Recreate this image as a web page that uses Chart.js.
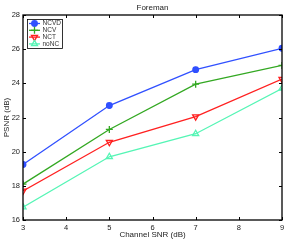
<!DOCTYPE html>
<html>
<head>
<meta charset="utf-8">
<script src="https://cdn.jsdelivr.net/npm/chart.js@4"></script>
<style>
  html, body { margin: 0; padding: 0; background: #fff; }
  #wrap { width: 289px; height: 241px; }
</style>
</head>
<body>
<div id="wrap"><canvas id="psnrChart" width="289" height="241"></canvas></div>
<script>
var snr = [3, 5, 7, 9];
var ncvd = [19.25, 22.7, 24.8, 26.05];
var ncv = [18.1, 21.3, 23.95, 25.05];
var nct = [17.7, 20.55, 22.05, 24.25];
var nonc = [16.75, 19.7, 21.05, 23.7];
var xTicks = [3, 4, 5, 6, 7, 8, 9];
var yTicks = [16, 18, 20, 22, 24, 26, 28];

var font = "'Liberation Sans', Arial, sans-serif";

function pts(vals) {
    return snr.map(function(s, i) { return { x: s, y: vals[i] }; });
}

function makeSet(label, vals, color, style, rot, fill, radius) {
    return {
        label: label,
        data: pts(vals),
        borderColor: color,
        backgroundColor: fill,
        borderWidth: 1.3,
        pointStyle: style,
        pointRotation: rot,
        pointRadius: radius,
        pointBorderColor: color,
        pointBackgroundColor: fill,
        pointBorderWidth: 1.3,
        tension: 0
    };
}

// box, inward ticks, axis titles and the legend, drawn like a matlab figure
var frame = {
    id: 'frame',
    afterDraw: function(chart) {
        var ctx = chart.ctx, a = chart.chartArea;
        var xs = chart.scales.x, ys = chart.scales.y;
        ctx.save();
        ctx.strokeStyle = '#000';
        ctx.lineWidth = 1;
        xTicks.forEach(function(t) {
            var px = Math.round(xs.getPixelForValue(t)) + 0.5;
            ctx.beginPath();
            ctx.moveTo(px, a.bottom); ctx.lineTo(px, a.bottom - 3);
            ctx.moveTo(px, a.top); ctx.lineTo(px, a.top + 3);
            ctx.stroke();
        });
        yTicks.forEach(function(t) {
            var py = Math.round(ys.getPixelForValue(t)) + 0.5;
            ctx.beginPath();
            ctx.moveTo(a.left, py); ctx.lineTo(a.left + 3, py);
            ctx.moveTo(a.right, py); ctx.lineTo(a.right - 3, py);
            ctx.stroke();
        });
        ctx.lineWidth = 1.3;
        ctx.strokeRect(a.left, a.top, a.right - a.left, a.bottom - a.top);

        // titles
        ctx.fillStyle = '#222';
        ctx.font = '8px ' + font;
        ctx.textAlign = 'center';
        ctx.textBaseline = 'middle';
        ctx.fillText('Foreman', (a.left + a.right) / 2, 8);
        ctx.fillText('Channel SNR (dB)', (a.left + a.right) / 2, 235);
        ctx.save();
        ctx.translate(7, (a.top + a.bottom) / 2);
        ctx.rotate(-Math.PI / 2);
        ctx.fillText('PSNR (dB)', 0, 0);
        ctx.restore();

        // legend
        var lx = a.left + 4, ly = a.top + 4, lw = 35, lh = 29;
        ctx.fillStyle = '#fff';
        ctx.fillRect(lx, ly, lw, lh);
        ctx.strokeStyle = '#000';
        ctx.lineWidth = 0.8;
        ctx.strokeRect(lx + 0.5, ly + 0.5, lw, lh);
        ctx.font = '6.5px ' + font;
        ctx.textAlign = 'left';
        ctx.textBaseline = 'middle';
        chart.data.datasets.forEach(function(ds, i) {
            var y = ly + 4.5 + i * 6.8;
            ctx.strokeStyle = ds.borderColor;
            ctx.lineWidth = 1.3;
            ctx.beginPath();
            ctx.moveTo(lx + 2, y); ctx.lineTo(lx + 13, y);
            ctx.stroke();
            ctx.fillStyle = ds.pointBackgroundColor;
            Chart.helpers.drawPoint(ctx, {
                pointStyle: ds.pointStyle,
                rotation: ds.pointRotation,
                radius: ds.pointRadius,
                borderWidth: 1.3
            }, lx + 7.5, y);
            ctx.fillStyle = '#333';
            ctx.fillText(ds.label, lx + 15.5, y);
        });
        ctx.restore();
    }
};

var ctx = document.getElementById('psnrChart').getContext('2d');
var chart = new Chart(ctx, {
    type: 'line',
    data: {
        datasets: [
            makeSet('NCVD', ncvd, '#3050ff', 'circle', 0, '#3050ff', 2.8),
            makeSet('NCV', ncv, '#33a822', 'cross', 0, '#33a822', 3.5),
            makeSet('NCT', nct, '#ff2020', 'triangle', 180, 'rgba(255,255,255,0)', 3.5),
            makeSet('noNC', nonc, '#55f5b5', 'triangle', 0, 'rgba(255,255,255,0)', 3.5)
        ]
    },
    options: {
        responsive: false,
        animation: false,
        layout: { padding: { left: 0, right: 7, top: 15, bottom: 0 } },
        plugins: {
            legend: { display: false },
            tooltip: { enabled: false },
            title: { display: false }
        },
        scales: {
            x: {
                type: 'linear',
                min: 3,
                max: 9,
                afterFit: function(s) { s.height = 21; },
                afterBuildTicks: function(s) { s.ticks = xTicks.map(function(v) { return { value: v }; }); },
                grid: { display: false, drawTicks: false, tickLength: 0 },
                border: { display: false },
                ticks: { color: '#222', font: { family: font, size: 7.5 }, padding: 3, maxRotation: 0 }
            },
            y: {
                min: 16,
                max: 28,
                afterFit: function(s) { s.width = 23; },
                afterBuildTicks: function(s) { s.ticks = yTicks.map(function(v) { return { value: v }; }); },
                grid: { display: false, drawTicks: false, tickLength: 0 },
                border: { display: false },
                ticks: { color: '#222', font: { family: font, size: 7.5 }, padding: 3 }
            }
        }
    },
    plugins: [frame]
});
</script>
</body>
</html>
